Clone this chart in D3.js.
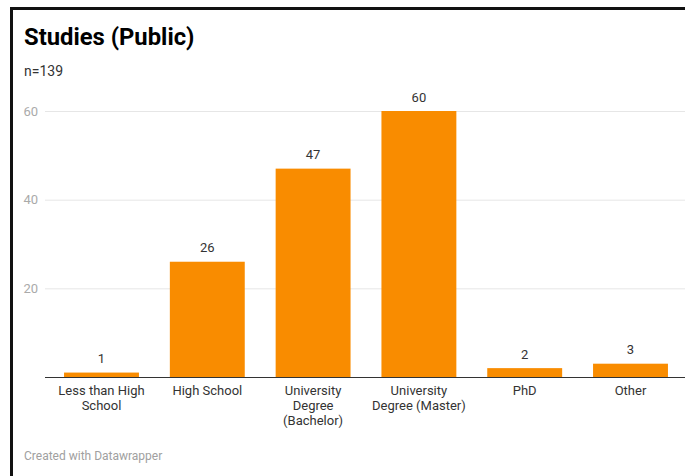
<!DOCTYPE html>
<html>
<head>
<meta charset="utf-8">
<script src="https://cdn.jsdelivr.net/npm/d3@7"></script>
<style>
  html, body { margin: 0; padding: 0; background: #fff; overflow: hidden; }
  #frame { position: absolute; left: 10px; top: 7px; width: 700px; height: 500px;
           border-top: 3px solid #111; border-left: 3px solid #111; box-sizing: border-box; }
  svg { position: absolute; left: 0; top: 0; }
  text { font-family: Roboto, "Noto Sans", sans-serif; }
</style>
</head>
<body>
<div id="frame"></div>
<svg id="chart" width="685" height="476"></svg>
<script>
const categories = ["Less than High School", "High School", "University Degree (Bachelor)", "University Degree (Master)", "PhD", "Other"];
const tickLabelLines = [["Less than High", "School"], ["High School"], ["University", "Degree", "(Bachelor)"], ["University", "Degree (Master)"], ["PhD"], ["Other"]];
const values = [1, 26, 47, 60, 2, 3];
const yTicks = [20, 40, 60];
const title = "Studies (Public)";
const subtitle = "n=139";
const footer = "Created with Datawrapper";

const svg = d3.select("#chart");
const W = 685;

const x = d3.scaleBand().domain(categories).range([45, 687]).paddingInner(0.292).paddingOuter(0.18);
const y = d3.scaleLinear().domain([0, 60]).range([377, 111]);

svg.append("text").attr("x", 24).attr("y", 44.5)
  .attr("font-size", 23.8).attr("font-weight", 700).attr("fill", "#000").text(title);
svg.append("text").attr("x", 24).attr("y", 76)
  .attr("font-size", 14).attr("fill", "#333").text(subtitle);

// y axis with gridlines
const yAxis = svg.append("g").attr("transform", "translate(45,0)")
  .call(d3.axisLeft(y).tickValues(yTicks).tickSize(-(W - 45 + 5)).tickPadding(7));
yAxis.select(".domain").remove();
yAxis.selectAll(".tick line").attr("stroke", "#e6e6e6");
yAxis.selectAll(".tick text").attr("fill", "#aaa").attr("font-size", 13)
  .attr("font-family", "Roboto, sans-serif");

// bars
svg.append("g").selectAll("rect").data(values).join("rect")
  .attr("x", (d, i) => x(categories[i]))
  .attr("y", d => y(d))
  .attr("width", x.bandwidth())
  .attr("height", d => y(0) - y(d))
  .attr("fill", "#f98c00");

// value labels
svg.append("g").selectAll("text").data(values).join("text")
  .attr("x", (d, i) => x(categories[i]) + x.bandwidth() / 2)
  .attr("y", d => y(d) - 9.5)
  .attr("text-anchor", "middle").attr("font-size", 13).attr("fill", "#333")
  .text(d => d);

// x axis
const xAxis = svg.append("g").attr("transform", `translate(0,${y(0)})`)
  .call(d3.axisBottom(x).tickSize(0).tickSizeOuter(0).tickPadding(9));
xAxis.select(".domain").attr("stroke", "#333").attr("d", `M45,0.5H${W + 5}`);
xAxis.selectAll(".tick text").each(function(d) {
  const t = d3.select(this);
  const lines = tickLabelLines[categories.indexOf(d)];
  t.text(null).attr("fill", "#333").attr("font-size", 13).attr("font-family", "Roboto, sans-serif");
  lines.forEach((l, i) => {
    t.append("tspan").attr("x", 0).attr("dy", i === 0 ? "0.71em" : "15px").text(l);
  });
}).attr("dy", null);

svg.append("text").attr("x", 24).attr("y", 459.5)
  .attr("font-size", 12).attr("fill", "#a0a0a0").text(footer);
</script>
</body>
</html>
